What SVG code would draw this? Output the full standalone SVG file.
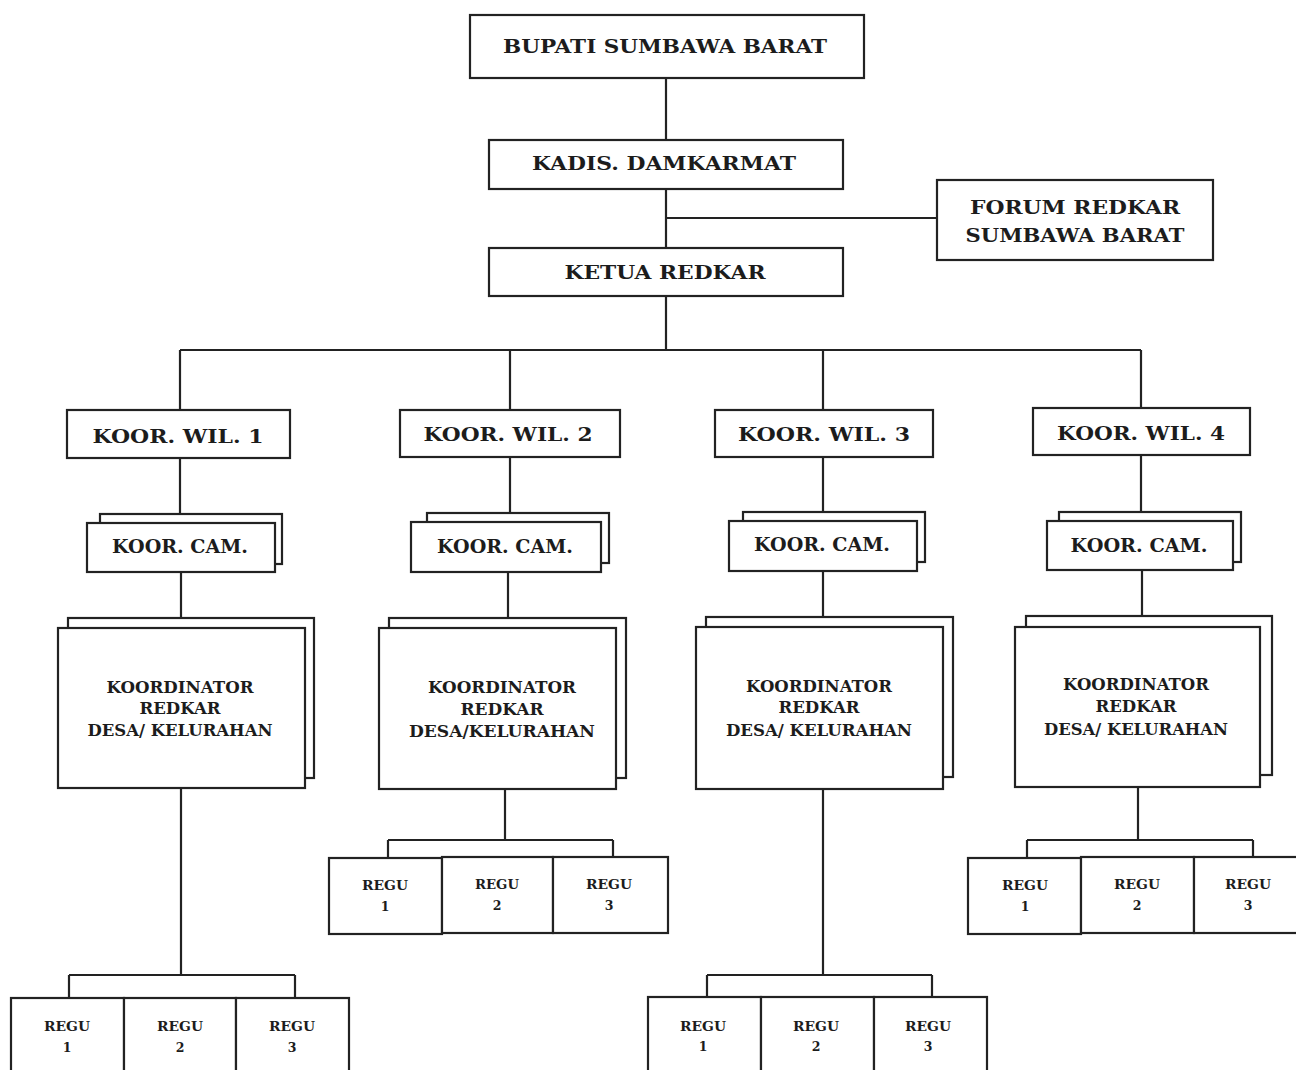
<svg xmlns="http://www.w3.org/2000/svg" width="1296" height="1070" viewBox="0 0 1296 1070">
<style>
.b{fill:#fff;stroke:#222;stroke-width:2.2}
.l{fill:none;stroke:#222;stroke-width:2.2}
text{font-family:"DejaVu Serif","Liberation Serif",serif;font-weight:bold;fill:#1c1c1c;text-anchor:middle}
.t1{font-size:19px}
.t2{font-size:18px}
.t3{font-size:16px}
.t4{font-size:14px}
.t5{font-size:12.5px}
</style>
<rect width="1296" height="1070" fill="#fff"/>
<g id="connectors">
<path class="l" d="M666 78V140M666 189V248M666 218H937M666 296V350M180 350H1141M180 350V410M510 350V410M823 350V410M1141 350V408"/>
<path class="l" d="M180 458V514M181 572V618M181 788V975M69 975H295M69 975V998M295 975V998"/>
<path class="l" d="M510 457V513M508 572V618M505 789V840M388 840H613M388 840V858M613 840V858"/>
<path class="l" d="M823 457V512M823 571V617M823 789V975M707 975H932M707 975V997M932 975V997"/>
<path class="l" d="M1141 455V512M1142 570V616M1138 787V840M1027 840H1253M1027 840V858M1253 840V858"/>
</g>
<g id="bupati"><rect class="b" x="470" y="15" width="394" height="63"/><text class="t1" x="665" y="53" textLength="324" lengthAdjust="spacingAndGlyphs">BUPATI SUMBAWA BARAT</text></g>
<g id="kadis"><rect class="b" x="489" y="140" width="354" height="49"/><text class="t1" x="664" y="170" textLength="264" lengthAdjust="spacingAndGlyphs">KADIS. DAMKARMAT</text></g>
<g id="forum"><rect class="b" x="937" y="180" width="276" height="80"/><text class="t1" x="1075" y="214" textLength="210" lengthAdjust="spacingAndGlyphs">FORUM REDKAR</text><text class="t1" x="1075" y="242" textLength="219" lengthAdjust="spacingAndGlyphs">SUMBAWA BARAT</text></g>
<g id="ketua"><rect class="b" x="489" y="248" width="354" height="48"/><text class="t1" x="665" y="279" textLength="201" lengthAdjust="spacingAndGlyphs">KETUA REDKAR</text></g>

<g id="wil1"><rect class="b" x="67" y="410" width="223" height="48"/><text class="t1" x="178" y="443" textLength="171" lengthAdjust="spacingAndGlyphs">KOOR. WIL. 1</text></g>
<g id="wil2"><rect class="b" x="400" y="410" width="220" height="47"/><text class="t1" x="508" y="441" textLength="169" lengthAdjust="spacingAndGlyphs">KOOR. WIL. 2</text></g>
<g id="wil3"><rect class="b" x="715" y="410" width="218" height="47"/><text class="t1" x="824" y="441" textLength="172" lengthAdjust="spacingAndGlyphs">KOOR. WIL. 3</text></g>
<g id="wil4"><rect class="b" x="1033" y="408" width="217" height="47"/><text class="t1" x="1141" y="440" textLength="168" lengthAdjust="spacingAndGlyphs">KOOR. WIL. 4</text></g>

<g id="cam1"><rect class="b" x="100" y="514" width="182" height="50"/><rect class="b" x="87" y="523" width="188" height="49"/><text class="t2" x="180" y="553" textLength="136" lengthAdjust="spacingAndGlyphs">KOOR. CAM.</text></g>
<g id="cam2"><rect class="b" x="427" y="513" width="182" height="50"/><rect class="b" x="411" y="522" width="190" height="50"/><text class="t2" x="505" y="553" textLength="136" lengthAdjust="spacingAndGlyphs">KOOR. CAM.</text></g>
<g id="cam3"><rect class="b" x="743" y="512" width="182" height="50"/><rect class="b" x="729" y="521" width="188" height="50"/><text class="t2" x="822" y="551" textLength="136" lengthAdjust="spacingAndGlyphs">KOOR. CAM.</text></g>
<g id="cam4"><rect class="b" x="1059" y="512" width="182" height="50"/><rect class="b" x="1047" y="521" width="186" height="49"/><text class="t2" x="1139" y="552" textLength="137" lengthAdjust="spacingAndGlyphs">KOOR. CAM.</text></g>

<g id="desa1"><rect class="b" x="68" y="618" width="246" height="160"/><rect class="b" x="58" y="628" width="247" height="160"/><text class="t3" x="180" y="693" textLength="147" lengthAdjust="spacingAndGlyphs">KOORDINATOR</text><text class="t3" x="180" y="714" textLength="81" lengthAdjust="spacingAndGlyphs">REDKAR</text><text class="t3" x="180" y="736" textLength="185" lengthAdjust="spacingAndGlyphs">DESA/ KELURAHAN</text></g>
<g id="desa2"><rect class="b" x="389" y="618" width="237" height="160"/><rect class="b" x="379" y="628" width="237" height="161"/><text class="t3" x="502" y="693" textLength="148" lengthAdjust="spacingAndGlyphs">KOORDINATOR</text><text class="t3" x="502" y="715" textLength="83" lengthAdjust="spacingAndGlyphs">REDKAR</text><text class="t3" x="502" y="737" textLength="186" lengthAdjust="spacingAndGlyphs">DESA/KELURAHAN</text></g>
<g id="desa3"><rect class="b" x="706" y="617" width="247" height="160"/><rect class="b" x="696" y="627" width="247" height="162"/><text class="t3" x="819" y="692" textLength="146" lengthAdjust="spacingAndGlyphs">KOORDINATOR</text><text class="t3" x="819" y="713" textLength="81" lengthAdjust="spacingAndGlyphs">REDKAR</text><text class="t3" x="819" y="736" textLength="186" lengthAdjust="spacingAndGlyphs">DESA/ KELURAHAN</text></g>
<g id="desa4"><rect class="b" x="1026" y="616" width="246" height="159"/><rect class="b" x="1015" y="627" width="245" height="160"/><text class="t3" x="1136" y="690" textLength="146" lengthAdjust="spacingAndGlyphs">KOORDINATOR</text><text class="t3" x="1136" y="712" textLength="81" lengthAdjust="spacingAndGlyphs">REDKAR</text><text class="t3" x="1136" y="735" textLength="184" lengthAdjust="spacingAndGlyphs">DESA/ KELURAHAN</text></g>

<g id="regu1-1"><rect class="b" x="11" y="998" width="113" height="80"/><text class="t5" x="67" y="1031" textLength="46" lengthAdjust="spacingAndGlyphs">REGU</text><text class="t5" x="67" y="1052">1</text></g>
<g id="regu1-2"><rect class="b" x="124" y="998" width="112" height="80"/><text class="t5" x="180" y="1031" textLength="46" lengthAdjust="spacingAndGlyphs">REGU</text><text class="t5" x="180" y="1052">2</text></g>
<g id="regu1-3"><rect class="b" x="236" y="998" width="113" height="80"/><text class="t5" x="292" y="1031" textLength="46" lengthAdjust="spacingAndGlyphs">REGU</text><text class="t5" x="292" y="1052">3</text></g>

<g id="regu2-1"><rect class="b" x="329" y="858" width="113" height="76"/><text class="t5" x="385" y="890" textLength="46" lengthAdjust="spacingAndGlyphs">REGU</text><text class="t5" x="385" y="911">1</text></g>
<g id="regu2-2"><rect class="b" x="442" y="857" width="111" height="76"/><text class="t5" x="497" y="889" textLength="44" lengthAdjust="spacingAndGlyphs" fill="#777">REGU</text><text class="t5" x="497" y="910" fill="#555">2</text></g>
<g id="regu2-3"><rect class="b" x="553" y="857" width="115" height="76"/><text class="t5" x="609" y="889" textLength="46" lengthAdjust="spacingAndGlyphs">REGU</text><text class="t5" x="609" y="910">3</text></g>

<g id="regu3-1"><rect class="b" x="648" y="997" width="113" height="80"/><text class="t5" x="703" y="1031" textLength="46" lengthAdjust="spacingAndGlyphs">REGU</text><text class="t5" x="703" y="1051">1</text></g>
<g id="regu3-2"><rect class="b" x="761" y="997" width="113" height="80"/><text class="t5" x="816" y="1031" textLength="46" lengthAdjust="spacingAndGlyphs">REGU</text><text class="t5" x="816" y="1051">2</text></g>
<g id="regu3-3"><rect class="b" x="874" y="997" width="113" height="80"/><text class="t5" x="928" y="1031" textLength="46" lengthAdjust="spacingAndGlyphs">REGU</text><text class="t5" x="928" y="1051">3</text></g>

<g id="regu4-1"><rect class="b" x="968" y="858" width="113" height="76"/><text class="t5" x="1025" y="890" textLength="46" lengthAdjust="spacingAndGlyphs">REGU</text><text class="t5" x="1025" y="911">1</text></g>
<g id="regu4-2"><rect class="b" x="1081" y="857" width="113" height="76"/><text class="t5" x="1137" y="889" textLength="46" lengthAdjust="spacingAndGlyphs">REGU</text><text class="t5" x="1137" y="910">2</text></g>
<g id="regu4-3"><rect class="b" x="1194" y="857" width="112" height="76"/><text class="t5" x="1248" y="889" textLength="46" lengthAdjust="spacingAndGlyphs">REGU</text><text class="t5" x="1248" y="910">3</text></g>
</svg>
